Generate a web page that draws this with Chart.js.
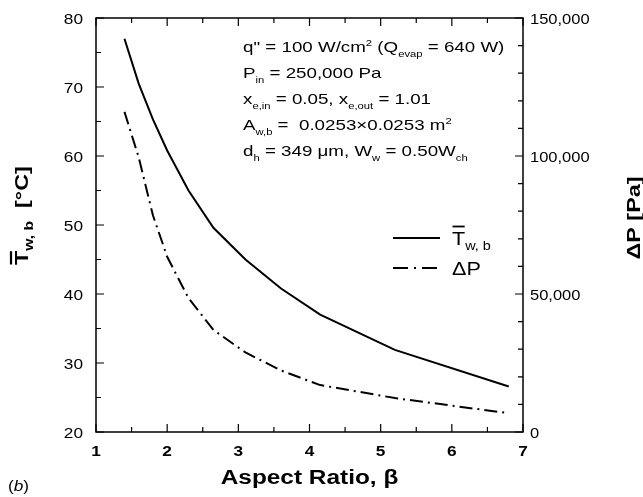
<!DOCTYPE html>
<html><head><meta charset="utf-8">
<script src="https://cdn.jsdelivr.net/npm/chart.js@4.4.0/dist/chart.umd.min.js"></script>
<style>html,body{margin:0;padding:0;background:#fff;}#wrap{width:643px;height:497px;}</style>
</head><body><div id="wrap"><canvas id="c" width="643" height="497"></canvas></div>
<script>
// ---- data ----
const aspectRatio  = [1.4, 1.6, 1.8, 2.0, 2.3, 2.65, 3.1, 3.6, 4.15, 5.2, 6.8];
const wallTemp     = [77.0, 70.5, 65.3, 60.8, 55.0, 49.6, 45.0, 40.8, 37.0, 31.9, 26.6];
const pressureDrop = [116000, 99500, 78500, 63500, 48500, 37000, 28800, 22300, 17000, 12300, 6800];
const xTickValues     = [1, 2, 3, 4, 5, 6, 7];
const leftTickValues  = [20, 30, 40, 50, 60, 70, 80];
const rightTickValues = [0, 50000, 100000, 150000];
const xMinorStep = 0.5, leftMinorStep = 5, rightMinorStep = 10000;

const FONT = '"Liberation Sans", Arial, Helvetica, sans-serif';
const SX = 1.2; // horizontal widening of the reference lettering

function txt(ctx, s, x, y, font, align, sx) {
  ctx.save();
  ctx.font = font;
  ctx.textAlign = align || 'left';
  ctx.translate(x, y);
  ctx.scale(sx || SX, 1);
  ctx.fillText(s, 0, 0);
  ctx.restore();
}

function drawRich(ctx, x, y, segs, size, weight, sx, subScale) {
  sx = sx || SX;
  let cx = x;
  for (const [t, m] of segs) {
    const fs = m ? Math.round(size * (subScale || 0.66)) : size;
    const f = `${weight || 'normal'} ${fs}px ${FONT}`;
    const dy = m === 'sub' ? size * 0.3 : (m === 'sup' ? -size * 0.38 : 0);
    txt(ctx, t, cx, y + dy, f, 'left', sx);
    ctx.font = f;
    cx += ctx.measureText(t).width * sx;
  }
  return cx - x;
}

const framePlugin = {
  id: 'frame',
  afterDraw(chart) {
    const ctx = chart.ctx, a = chart.chartArea;
    const sx = chart.scales.x, sy = chart.scales.y, sy2 = chart.scales.y2;
    ctx.save();
    ctx.strokeStyle = '#000';
    ctx.fillStyle = '#000';
    ctx.lineWidth = 1.5;
    ctx.strokeRect(a.left, a.top, a.right - a.left, a.bottom - a.top);
    ctx.lineWidth = 1.2;
    ctx.beginPath();
    const tick = (v, scale, isMajor, side) => {
      const len = isMajor ? 8 : 5;
      const p = scale.getPixelForValue(v);
      if (side === 'b') { ctx.moveTo(p, a.bottom); ctx.lineTo(p, a.bottom - len); ctx.moveTo(p, a.top); ctx.lineTo(p, a.top + len); }
      if (side === 'l') { ctx.moveTo(a.left, p); ctx.lineTo(a.left + len, p); }
      if (side === 'r') { ctx.moveTo(a.right, p); ctx.lineTo(a.right - len, p); }
    };
    for (let v = sx.min; v <= sx.max + 1e-9; v += xMinorStep) tick(v, sx, xTickValues.some(t => Math.abs(t - v) < 1e-9), 'b');
    for (let v = sy.min; v <= sy.max + 1e-9; v += leftMinorStep) tick(v, sy, leftTickValues.includes(v), 'l');
    for (let v = sy2.min; v <= sy2.max + 1e-9; v += rightMinorStep) tick(v, sy2, rightTickValues.includes(v), 'r');
    ctx.stroke();

    ctx.textBaseline = 'alphabetic';
    // tick labels, placed by the scales
    sx.ticks.forEach(t => txt(ctx, String(t.value), sx.getPixelForValue(t.value), 456, `bold 15px ${FONT}`, 'center', 1.15));
    sy.ticks.forEach(t => txt(ctx, String(t.value), a.left - 13, sy.getPixelForValue(t.value) + 5.5, `normal 15px ${FONT}`, 'right', 1.15));
    sy2.ticks.forEach(t => txt(ctx, t.value.toLocaleString('en-US'), a.right + 7, sy2.getPixelForValue(t.value) + 5.5, `normal 15px ${FONT}`, 'left', 1.1));

    // annotation block
    const ax = a.left + 147, ay = a.top + 34, lh = 26;
    const lines = [
      [['q" = 100 W/cm', ''], ['2', 'sup'], [' (Q', ''], ['evap', 'sub'], [' = 640 W)', '']],
      [['P', ''], ['in', 'sub'], [' = 250,000 Pa', '']],
      [['x', ''], ['e,in', 'sub'], [' = 0.05, x', ''], ['e,out', 'sub'], [' = 1.01', '']],
      [['A', ''], ['w,b', 'sub'], [' =  0.0253\u00d70.0253 m', ''], ['2', 'sup']],
      [['d', ''], ['h', 'sub'], [' = 349 \u03bcm, W', ''], ['w', 'sub'], [' = 0.50W', ''], ['ch', 'sub']]
    ];
    lines.forEach((ln, i) => drawRich(ctx, ax, ay + i * lh, ln, 15, 'normal', 1.25, 0.62));

    // legend
    const ds = chart.data.datasets;
    const lx0 = a.left + 297, lx1 = a.left + 344, tx = a.left + 356;
    const ly = [a.top + 220, a.top + 250];
    ds.forEach((d, i) => {
      ctx.save();
      ctx.lineWidth = d.borderWidth;
      ctx.setLineDash(d.borderDash ? [15, 6, 2, 6] : []);
      ctx.beginPath(); ctx.moveTo(lx0, ly[i]); ctx.lineTo(lx1, ly[i]); ctx.stroke();
      ctx.restore();
    });
    ctx.font = `normal 18px ${FONT}`;
    const tw = ctx.measureText('T').width * 1.2;
    drawRich(ctx, tx, ly[0] + 7, [['T', ''], ['w, b', 'sub']], 18, 'normal', 1.2, 0.68);
    ctx.lineWidth = 1.8;
    ctx.beginPath(); ctx.moveTo(tx + 0.5, ly[0] - 11.5); ctx.lineTo(tx + tw - 0.5, ly[0] - 11.5); ctx.stroke();
    drawRich(ctx, tx, ly[1] + 7, [['\u0394P', '']], 18, 'normal', 1.2);

    // x title
    txt(ctx, 'Aspect Ratio, \u03b2', (a.left + a.right) / 2, 484, `bold 20px ${FONT}`, 'center', 1.22);
    // (b)
    let bx = 8;
    txt(ctx, '(', bx, 491, `normal 15px ${FONT}`, 'left', 1.15); ctx.font = `normal 15px ${FONT}`; bx += ctx.measureText('(').width * 1.15;
    txt(ctx, 'b', bx, 491, `italic 15px ${FONT}`, 'left', 1.15); ctx.font = `italic 15px ${FONT}`; bx += ctx.measureText('b').width * 1.15;
    txt(ctx, ')', bx, 491, `normal 15px ${FONT}`, 'left', 1.15);

    // left title rotated
    ctx.save();
    ctx.translate(28, 265);
    ctx.rotate(-Math.PI / 2);
    drawRich(ctx, 0, 0, [['T', ''], ['w, b', 'sub'], ['  [\u00b0C]', '']], 18, 'bold', 1.3, 0.68);
    ctx.font = `bold 18px ${FONT}`;
    const tw2 = ctx.measureText('T').width * 1.3;
    ctx.lineWidth = 2.2;
    ctx.beginPath(); ctx.moveTo(0.5, -17); ctx.lineTo(tw2 - 0.5, -17); ctx.stroke();
    ctx.restore();

    // right title rotated
    ctx.save();
    ctx.translate(640, 218);
    ctx.rotate(-Math.PI / 2);
    txt(ctx, '\u0394P [Pa]', 0, 0, `bold 18px ${FONT}`, 'center', 1.3);
    ctx.restore();
    ctx.restore();
  }
};

const ctx = document.getElementById('c').getContext('2d');
new Chart(ctx, {
  type: 'line',
  data: {
    datasets: [
      { label: 'T w,b', data: aspectRatio.map((b, i) => ({ x: b, y: wallTemp[i] })), yAxisID: 'y',
        borderColor: '#000', borderWidth: 2, pointRadius: 0, fill: false, tension: 0 },
      { label: '\u0394P', data: aspectRatio.map((b, i) => ({ x: b, y: pressureDrop[i] })), yAxisID: 'y2',
        borderColor: '#000', borderWidth: 2, borderDash: [13, 5, 2, 5], pointRadius: 0, fill: false, tension: 0 }
    ]
  },
  options: {
    responsive: false, animation: false, devicePixelRatio: 1,
    layout: { padding: { top: 18, left: 0, right: 0, bottom: 0 } },
    plugins: { legend: { display: false }, tooltip: { enabled: false } },
    scales: {
      x: {
        type: 'linear', min: 1, max: 7,
        afterBuildTicks: s => { s.ticks = xTickValues.map(v => ({ value: v })); },
        afterFit: s => { s.height = 65; },
        grid: { display: false, drawTicks: false }, border: { display: false },
        ticks: { display: false }
      },
      y: {
        position: 'left', min: 20, max: 80,
        afterBuildTicks: s => { s.ticks = leftTickValues.map(v => ({ value: v })); },
        afterFit: s => { s.width = 96; },
        grid: { display: false, drawTicks: false }, border: { display: false },
        ticks: { display: false }
      },
      y2: {
        position: 'right', min: 0, max: 150000,
        afterBuildTicks: s => { s.ticks = rightTickValues.map(v => ({ value: v })); },
        afterFit: s => { s.width = 120; },
        grid: { display: false, drawTicks: false }, border: { display: false },
        ticks: { display: false }
      }
    }
  },
  plugins: [framePlugin]
});
</script>
</body></html>
